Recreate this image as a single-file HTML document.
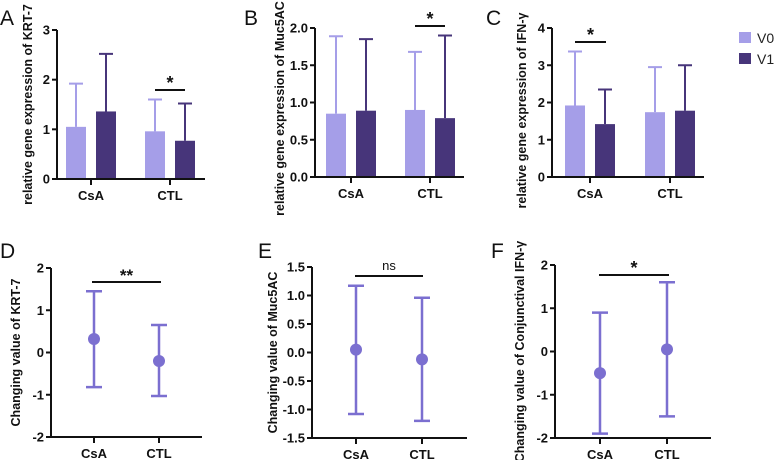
<!DOCTYPE html>
<html><head><meta charset="utf-8"><style>
html,body{margin:0;padding:0;background:#fff;}
svg{display:block;font-family:"Liberation Sans",Arial,sans-serif;}
.t{font-size:13px;font-weight:bold;fill:#111;}
.tt{font-size:12.5px;font-weight:bold;fill:#111;}
.ax{stroke:#111;stroke-width:2;fill:none;}
.pl{font-size:21px;fill:#111;}
</style></head><body>
<svg id="fig" width="778" height="460" viewBox="0 0 778 460" xmlns="http://www.w3.org/2000/svg"></svg>
<script>
// ---- data ----
const groups = ["CsA","CTL"];
const seriesNames = ["V0","V1"];
const krtV0 = [1.05, 0.96], krtV0Err = [1.92, 1.60];
const krtV1 = [1.36, 0.77], krtV1Err = [2.52, 1.52];
const mucV0 = [0.85, 0.90], mucV0Err = [1.89, 1.68];
const mucV1 = [0.89, 0.79], mucV1Err = [1.85, 1.90];
const ifnV0 = [1.92, 1.74], ifnV0Err = [3.37, 2.95];
const ifnV1 = [1.42, 1.78], ifnV1Err = [2.35, 3.00];
const chKrt = [0.32, -0.20], chKrtLo = [-0.82, -1.03], chKrtHi = [1.45, 0.65];
const chMuc = [0.05, -0.12], chMucLo = [-1.08, -1.20], chMucHi = [1.17, 0.96];
const chIfn = [-0.50, 0.05], chIfnLo = [-1.90, -1.50], chIfnHi = [0.90, 1.60];
const ticksA = ["0","1","2","3"], ticksB = ["0.0","0.5","1.0","1.5","2.0"], ticksC = ["0","1","2","3","4"];
const ticksD = ["-2","-1","0","1","2"], ticksE = ["-1.5","-1.0","-0.5","0.0","0.5","1.0","1.5"], ticksF = ["-2","-1","0","1","2"];

const C0="#a59ee8", C1="#47357a", CD="#7b6fd0";
const svg=document.getElementById('fig');
const NS="http://www.w3.org/2000/svg";
function mk(tag,at,parent){const e=document.createElementNS(NS,tag);for(const k in at)e.setAttribute(k,at[k]);(parent||svg).appendChild(e);return e;}
function txt(x,y,s,cls,anchor,parent,extra){const e=mk('text',Object.assign({x:x,y:y,class:cls,'text-anchor':anchor||'middle'},extra||{}),parent);e.textContent=s;return e;}

function axes(p){
  const g=mk('g',{});
  
  
  const ymin=+p.ticks[0], ymax=+p.ticks[p.ticks.length-1];
  const Y=v=>p.yb-(v-ymin)/(ymax-ymin)*(p.yb-p.yt);
  const X=i=>p.ax+p.gx[i];
  const ya=mk('path',{d:`M${p.ax},${p.yt}V${p.yb}`,class:'ax'},g);
  
  const xa=mk('path',{d:`M${p.ax},${p.yb}H${p.xe}`,class:'ax'},g);
  
  p.ticks.forEach(t=>{const y=Y(+t);mk('path',{d:`M${p.ax-5},${y}H${p.ax}`,class:'ax'},g);
    const l=txt(p.ax-7,y+4.5,t,'t','end',g);});
  groups.forEach((gname,i)=>{mk('path',{d:`M${X(i)},${p.yb}V${p.yb+6}`,class:'ax'},g);
    const l=txt(X(i),p.yb+21,gname,'t','middle',g);});
  const ty=(p.yt+p.yb)/2+p.tdy;
  const tt=txt(p.tx,ty,p.title,'tt','middle',g,{transform:`rotate(-90 ${p.tx} ${ty})`});
  
  const pl=txt(p.lx,p.ly,p.letter,'pl','start',g);
  
  return {g,X,Y};
}
function sig(g,x1,x2,y,s,size){
  const l=mk('path',{d:`M${x1},${y}H${x2}`,stroke:'#111','stroke-width':2},g);
  
  const t=txt((x1+x2)/2,y-(s==='ns'?6:1),s,'t','middle',g,{style:`font-size:${size}px;font-weight:${s==='ns'?'normal':'bold'}`});
  
}
function barPanel(p,v0,e0,v1,e1){
  const {g,X,Y}=axes(p);
  [[v0,e0,C0,-15],[v1,e1,C1,15]].forEach(([v,e,c,off],si)=>{
    v.forEach((val,i)=>{
      const cx=X(i)+off;
      const eb=mk('path',{d:`M${cx},${Y(val)}V${Y(e[i])}M${cx-7},${Y(e[i])}H${cx+7}`,stroke:c,'stroke-width':2,fill:'none'},g);
      
      const r=mk('rect',{x:cx-10,y:Y(val),width:20,height:p.yb-Y(val),fill:c},g);
      
      
    });
  });
  g.appendChild(g.querySelectorAll('path.ax')[1]);
  return {g,X,Y};
}
function dotPanel(p,m,lo,hi){
  const {g,X,Y}=axes(p);
  m.forEach((val,i)=>{
    const cx=X(i);
    const eb=mk('path',{d:`M${cx},${Y(lo[i])}V${Y(hi[i])}M${cx-8},${Y(lo[i])}H${cx+8}M${cx-8},${Y(hi[i])}H${cx+8}`,stroke:CD,'stroke-width':2.5,fill:'none'},g);
    
    const c=mk('circle',{cx:cx,cy:Y(val),r:6,fill:CD},g);
    
    
  });
  return {g,X,Y};
}

let P;
P=barPanel({name:'panel-a-krt7',ax:57,yt:30,yb:179,xe:205,gx:[34,113],ticks:ticksA,title:'relative gene expression of KRT-7',tx:32,tdy:0,letter:'A',lx:0,ly:25},krtV0,krtV0Err,krtV1,krtV1Err);
sig(P.g,P.X(1)-15,P.X(1)+15,90,'*',18);
P=barPanel({name:'panel-b-muc5ac',ax:315,yt:28,yb:177,xe:464,gx:[36,115],ticks:ticksB,title:'relative gene expression of Muc5AC',tx:284,tdy:6,letter:'B',lx:244,ly:25},mucV0,mucV0Err,mucV1,mucV1Err);
sig(P.g,P.X(1)-15,P.X(1)+15,26,'*',18);
P=barPanel({name:'panel-c-ifng',ax:552,yt:28,yb:177,xe:704,gx:[38,118],ticks:ticksC,title:'relative gene expression of IFN-γ',tx:526,tdy:8,letter:'C',lx:486,ly:25},ifnV0,ifnV0Err,ifnV1,ifnV1Err);
sig(P.g,P.X(0)-15,P.X(0)+16,42,'*',18);

P=dotPanel({name:'panel-d-krt7-change',ax:51,yt:268,yb:437,xe:202,gx:[43,108],ticks:ticksD,title:'Changing value of  KRT-7',tx:20,tdy:0,letter:'D',lx:0,ly:258},chKrt,chKrtLo,chKrtHi);
sig(P.g,92,161,282,'**',17);
P=dotPanel({name:'panel-e-muc5ac-change',ax:312,yt:267,yb:438,xe:467,gx:[44,110],ticks:ticksE,title:'Changing value of  Muc5AC',tx:277,tdy:0,letter:'E',lx:258,ly:258},chMuc,chMucLo,chMucHi);
sig(P.g,355,423,276,'ns',13);
P=dotPanel({name:'panel-f-ifng-change',ax:555,yt:265,yb:438,xe:711,gx:[45,112],ticks:ticksF,title:'Changing value of  Conjunctival IFN-γ',tx:524,tdy:0,letter:'F',lx:491,ly:258},chIfn,chIfnLo,chIfnHi);
sig(P.g,599,669,275,'*',18);

// legend
const lg=mk('g',{});


[[C0,'V0',32],[C1,'V1',53]].forEach(([c,n,y])=>{
  const e=mk('g',{},lg);
  
  
  mk('rect',{x:739,y:y,width:12,height:11,fill:c},e);
  txt(757,y+11,n,'','start',e,{style:'font-size:14px;fill:#222'});
});
</script>
</body></html>
